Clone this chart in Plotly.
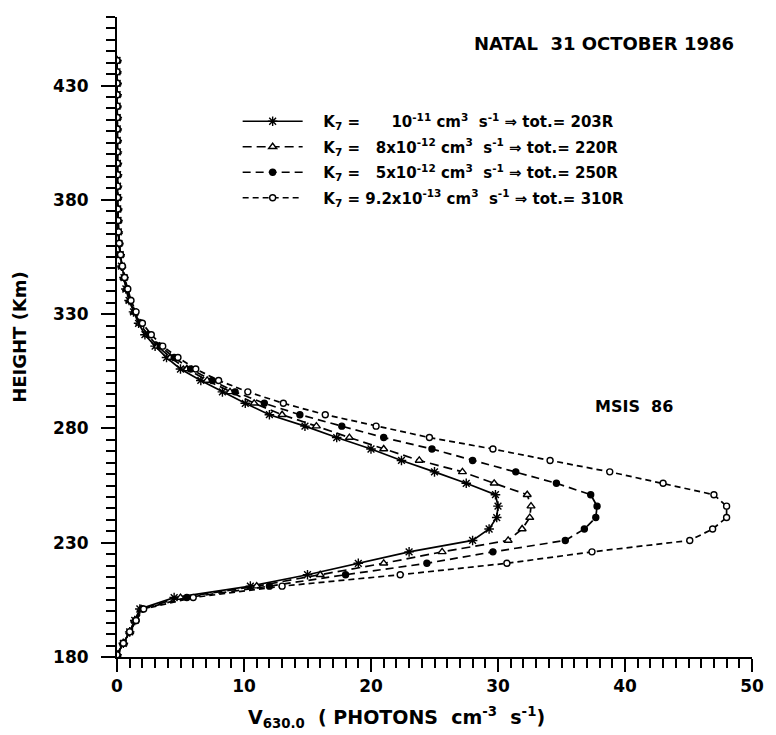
import plotly.graph_objects as go

# Heights (km) of the model points
height = [181 + 5 * k for k in range(53)]

# V630.0 emission rates (photons cm^-3 s^-1) for the four K7 values
v_k7_1e11 = [0.0, 0.5, 1.0, 1.4, 1.8, 4.5, 10.5, 15.0, 19.0, 23.0, 28.0, 29.3, 29.9, 30.0, 29.8,
             27.5, 25.0, 22.4, 20.0, 17.3, 14.8, 12.0, 10.1, 8.3, 6.6, 5.0, 3.9, 3.0, 2.2, 1.7,
             1.3, 0.95, 0.7, 0.55, 0.35, 0.25, 0.15, 0.1, 0.08, 0.06, 0.05, 0.04, 0.04, 0.03,
             0.03, 0.02, 0.02, 0.02, 0.01, 0.01, 0.01, 0.0, 0.0]
v_k7_8e12 = [0.0, 0.5, 1.0, 1.4, 1.9, 5.0, 11.0, 16.0, 21.0, 25.6, 30.8, 31.9, 32.5, 32.6, 32.3,
             29.7, 27.2, 23.8, 21.0, 18.3, 15.7, 13.0, 10.8, 8.9, 7.1, 5.5, 4.2, 3.2, 2.4, 1.8,
             1.35, 1.0, 0.75, 0.55, 0.38, 0.26, 0.16, 0.11, 0.08, 0.06, 0.05, 0.04, 0.04, 0.03,
             0.03, 0.02, 0.02, 0.02, 0.01, 0.01, 0.01, 0.0, 0.0]
v_k7_5e12 = [0.0, 0.5, 1.0, 1.5, 2.0, 5.5, 12.0, 18.0, 24.4, 29.6, 35.3, 36.8, 37.7, 37.8, 37.3,
             34.6, 31.4, 28.0, 24.8, 21.0, 17.7, 14.4, 11.6, 9.3, 7.5, 5.8, 4.5, 3.4, 2.5, 1.9,
             1.4, 1.05, 0.8, 0.58, 0.4, 0.27, 0.17, 0.11, 0.08, 0.06, 0.05, 0.04, 0.04, 0.03,
             0.03, 0.02, 0.02, 0.02, 0.01, 0.01, 0.01, 0.0, 0.0]
v_k7_92e13 = [0.0, 0.5, 1.0, 1.5, 2.1, 6.0, 13.0, 22.3, 30.7, 37.4, 45.1, 46.9, 48.0, 48.0, 47.0,
              43.0, 38.8, 34.1, 29.6, 24.6, 20.4, 16.4, 13.1, 10.3, 8.0, 6.2, 4.8, 3.6, 2.7, 2.0,
              1.5, 1.1, 0.85, 0.6, 0.42, 0.28, 0.18, 0.12, 0.08, 0.06, 0.05, 0.04, 0.04, 0.03,
              0.03, 0.02, 0.02, 0.02, 0.01, 0.01, 0.01, 0.0, 0.0]

legend_names = [
    "   K<sub>7</sub> =      10<sup>-11</sup> cm<sup>3</sup>  s<sup>-1</sup> ⇒ tot.= 203R",
    "   K<sub>7</sub> =   8x10<sup>-12</sup> cm<sup>3</sup>  s<sup>-1</sup> ⇒ tot.= 220R",
    "   K<sub>7</sub> =   5x10<sup>-12</sup> cm<sup>3</sup>  s<sup>-1</sup> ⇒ tot.= 250R",
    "   K<sub>7</sub> = 9.2x10<sup>-13</sup> cm<sup>3</sup>  s<sup>-1</sup> ⇒ tot.= 310R",
]

series = [v_k7_1e11, v_k7_8e12, v_k7_5e12, v_k7_92e13]
dashes = ["solid", "9px,5px", "8px,5px", "6px,4px"]
symbols = ["asterisk-open", "triangle-up", "circle", "circle"]
fills = ["black", "white", "black", "white"]
sizes = [8, 7, 6, 6]

fig = go.Figure()
for i, (vals, name, dash, sym, fill, sz) in enumerate(
        zip(series, legend_names, dashes, symbols, fills, sizes)):
    fig.add_trace(go.Scatter(
        x=vals, y=height, mode="lines+markers", name=name, legendgroup=f"g{i}",
        line=dict(color="black", width=1.7, dash=dash),
        marker=dict(symbol=sym, size=sz, color=fill,
                    line=dict(color="black", width=1.4)),
    ))

font_main = "DejaVu Sans"
bold = dict(family=font_main, weight="bold", color="black")

fig.update_layout(
    width=776, height=735,
    margin=dict(l=117, r=18, t=17, b=78),
    paper_bgcolor="white", plot_bgcolor="white",
    font=dict(family=font_main, color="black", size=15),
    showlegend=True,
    legend=dict(x=0.19, y=0.8625, xanchor="left", yanchor="top",
                bgcolor="rgba(0,0,0,0)", font=dict(size=15, **bold),
                itemwidth=60, tracegroupgap=3),
    xaxis=dict(range=[0, 50], showgrid=False, zeroline=False,
               showline=True, linecolor="black", linewidth=2,
               ticks="outside", ticklen=13, tickwidth=2, tickcolor="black",
               dtick=10, tick0=0, ticklabelstandoff=0,
               tickfont=dict(size=17, **bold),
               minor=dict(dtick=1, ticks="outside", ticklen=9, tickwidth=2, tickcolor="black")),
    yaxis=dict(range=[180, 460], showgrid=False, zeroline=False,
               showline=True, linecolor="black", linewidth=2,
               ticks="outside", ticklen=14, tickwidth=2, tickcolor="black",
               dtick=50, tick0=180, ticklabelstandoff=9,
               tickfont=dict(size=17, **bold),
               minor=dict(dtick=5, ticks="outside", ticklen=9, tickwidth=2, tickcolor="black"),
               title=dict(text="HEIGHT (Km)", font=dict(size=18, **bold), standoff=22)),
    annotations=[
        dict(text="V<sub>630.0</sub>  ( PHOTONS  cm<sup>-3</sup>  s<sup>-1</sup>)",
             xref="paper", yref="paper", x=0.44, y=-0.095,
             xanchor="center", yanchor="middle", showarrow=False, font=dict(size=19, **bold)),
        dict(text="NATAL  31 OCTOBER 1986", xref="paper", yref="paper", x=0.975, y=0.958,
             xanchor="right", yanchor="middle", showarrow=False, font=dict(size=18, **bold)),
        dict(text="MSIS  86", xref="paper", yref="paper", x=0.878, y=0.392,
             xanchor="right", yanchor="middle", showarrow=False, font=dict(size=16, **bold)),
    ],
)

fig.write_html("out.html")
